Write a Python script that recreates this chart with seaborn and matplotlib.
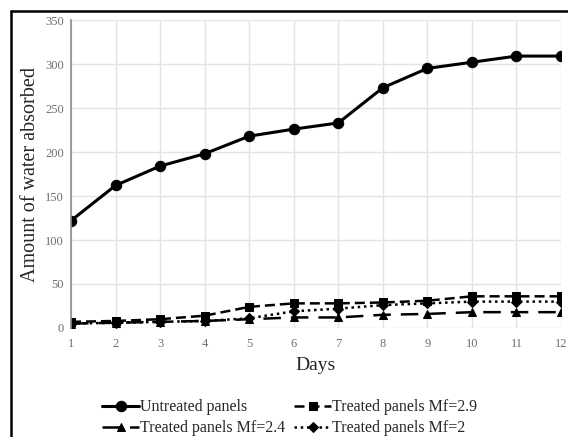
"""
Water absorption of untreated and treated panels over 12 days
"""
import matplotlib
matplotlib.use("Agg")
import matplotlib.pyplot as plt
import seaborn as sns
import pandas as pd

sns.set_style("white")
plt.rcParams["font.family"] = ["Liberation Serif", "DejaVu Serif"]

# data
days = list(range(1, 13))
untreated = [122, 162, 184, 198, 218, 226, 233, 273, 295, 302, 309, 309]
mf29 = [7, 8, 10, 14, 24, 28, 28, 29, 31, 36, 36, 36]
mf24 = [5, 6, 7, 8, 10, 12, 12, 15, 16, 18, 18, 18]
mf20 = [5, 6, 7, 8, 11, 19, 22, 26, 28, 30, 30, 30]

df = pd.DataFrame({"Days": days, "Untreated panels": untreated,
                   "Treated panels Mf=2.9": mf29,
                   "Treated panels Mf=2.4": mf24,
                   "Treated panels Mf=2": mf20})

fig = plt.figure(figsize=(5.68, 4.37), dpi=100)
ax = fig.add_axes([71/568, 1 - 328/437, 490/568, 308/437])

# order chosen so the two-column legend matches the reference
styles = [
    ("Untreated panels", "o", "-", 7.5, 2.2),
    ("Treated panels Mf=2.4", "^", (0, (7, 4)), 5.5, 1.8),
    ("Treated panels Mf=2.9", "s", (0, (4, 2)), 5.5, 1.8),
    ("Treated panels Mf=2", "D", (0, (1, 1.5)), 5.0, 1.8),
]
for name, mk, ls, ms, lw in styles:
    sns.lineplot(data=df, x="Days", y=name, ax=ax, color="black", marker=mk,
                 markersize=ms, linestyle=ls, linewidth=lw, markeredgecolor="black",
                 label=name, legend=False)

ax.set_xlim(1, 12)
ax.set_ylim(0, 350)
ax.set_xticks(days)
ax.set_yticks(range(0, 351, 50))
ax.grid(True, color="#e3e3e3", linewidth=1)
for s in ["top", "right", "bottom"]:
    ax.spines[s].set_visible(False)
ax.spines["left"].set_color("#8c8c8c")
ax.spines["left"].set_linewidth(1.2)
ax.tick_params(axis="y", direction="inout", length=6, color="#8c8c8c",
               labelsize=9, labelcolor="#6e6e6e", pad=2)
ax.tick_params(axis="x", length=0, labelsize=9, labelcolor="#6e6e6e", pad=7)
ax.set_xlabel("Days", fontsize=14, labelpad=5)
ax.set_ylabel("Amount of water absorbed", fontsize=14.5, labelpad=4)

handles, labels = ax.get_legend_handles_labels()
fig.legend(handles, labels, ncol=2, loc="upper center", bbox_to_anchor=(0.51, 1 - 393/437),
           frameon=False, fontsize=11.5, handlelength=2.3, handletextpad=0.05,
           columnspacing=0.6, labelspacing=0.3, borderaxespad=0)

# outer frame (only top and left edges visible in the crop)
fig.add_artist(plt.Line2D([11/568, 1.01], [1 - 11/437, 1 - 11/437], color="black",
                          linewidth=1.8, transform=fig.transFigure))
fig.add_artist(plt.Line2D([11/568, 11/568], [-0.01, 1 - 11/437], color="black",
                          linewidth=1.8, transform=fig.transFigure))

fig.savefig("out.png", dpi=100)
